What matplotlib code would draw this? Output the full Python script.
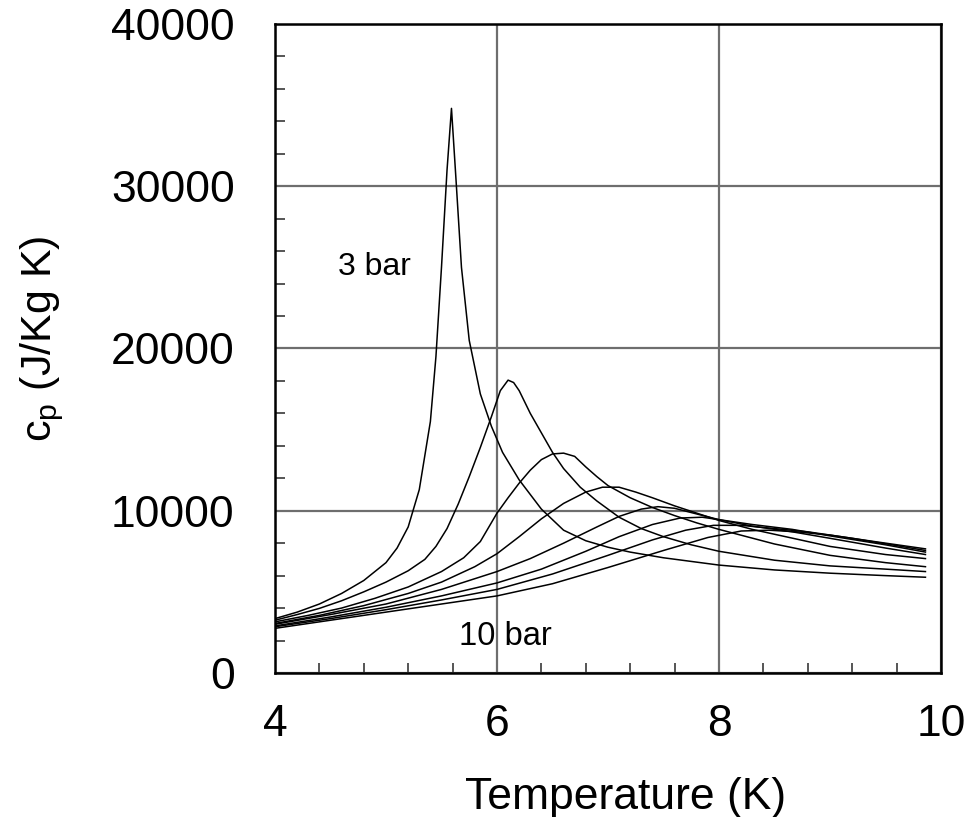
import numpy as np
import matplotlib
matplotlib.use('Agg')
import matplotlib.pyplot as plt
from matplotlib.ticker import MultipleLocator

plt.rcParams['font.family'] = ['Liberation Sans', 'DejaVu Sans']
plt.rcParams['mathtext.fontset'] = 'custom'
plt.rcParams['mathtext.rm'] = 'Liberation Sans'

# specific heat of helium (T in K, cp in J/Kg K)
T_3bar = [4.0, 4.2, 4.4, 4.6, 4.8, 5.0, 5.1, 5.2, 5.3, 5.4, 5.45, 5.5, 5.55, 5.59, 5.63, 5.68,
          5.75, 5.85, 5.95, 6.05, 6.2, 6.4, 6.6, 6.8, 7.0, 7.2, 7.5, 8.0, 8.5, 9.0, 9.5, 9.86]
cp_3bar = [3350, 3750, 4250, 4900, 5700, 6800, 7700, 9000, 11300, 15500, 19500, 25000, 31000,
           34800, 30500, 25000, 20500, 17200, 15200, 13600, 11900, 10100, 8800, 8150, 7750,
           7450, 7100, 6650, 6350, 6150, 6000, 5900]

T_4bar = [4.0, 4.2, 4.4, 4.6, 4.8, 5.0, 5.2, 5.35, 5.45, 5.55, 5.65, 5.75, 5.85, 5.95, 6.03, 6.1,
          6.15, 6.2, 6.3, 6.4, 6.5, 6.6, 6.75, 6.9, 7.1, 7.3, 7.5, 7.75, 8.0, 8.5, 9.0, 9.5, 9.86]
cp_4bar = [3250, 3600, 3980, 4450, 5000, 5600, 6300, 7000, 7800, 8900, 10400, 12100, 13900,
           15800, 17400, 18050, 17900, 17400, 16000, 14800, 13600, 12600, 11450, 10600, 9600,
           8900, 8400, 7900, 7500, 6950, 6600, 6400, 6250]

T_5bar = [4.0, 4.3, 4.6, 4.9, 5.2, 5.5, 5.7, 5.85, 6.0, 6.1, 6.2, 6.3, 6.4, 6.5, 6.6, 6.7, 6.8,
          6.9, 7.0, 7.2, 7.4, 7.6, 7.8, 8.0, 8.5, 9.0, 9.5, 9.86]
cp_5bar = [3150, 3550, 4000, 4600, 5300, 6250, 7100, 8100, 9850, 10800, 11700, 12500, 13150,
           13500, 13550, 13350, 12700, 12100, 11550, 10800, 10200, 9700, 9250, 8850, 7950, 7250,
           6800, 6550]

T_6bar = [4.0, 4.4, 4.8, 5.2, 5.5, 5.8, 6.0, 6.2, 6.4, 6.6, 6.8, 6.95, 7.1, 7.25, 7.4, 7.6, 7.8,
          8.0, 8.3, 8.6, 9.0, 9.5, 9.86]
cp_6bar = [3050, 3550, 4150, 4900, 5600, 6550, 7350, 8400, 9500, 10450, 11150, 11450, 11450,
           11150, 10800, 10300, 9850, 9400, 8850, 8400, 7800, 7300, 7050]

T_7bar = [4.0, 4.5, 5.0, 5.5, 6.0, 6.3, 6.6, 6.9, 7.1, 7.3, 7.45, 7.6, 7.8, 8.0, 8.3, 8.66, 9.0,
          9.5, 9.86]
cp_7bar = [3000, 3600, 4250, 5150, 6250, 7050, 8000, 9000, 9650, 10100, 10250, 10150, 9800, 9450,
           9050, 8700, 8300, 7700, 7300]

T_8bar = [4.0, 4.5, 5.0, 5.5, 6.0, 6.4, 6.8, 7.1, 7.4, 7.65, 7.85, 8.05, 8.3, 8.66, 9.0, 9.5, 9.86]
cp_8bar = [2900, 3450, 4050, 4750, 5550, 6400, 7500, 8400, 9150, 9550, 9600, 9400, 9150, 8850,
           8450, 7900, 7450]

T_9bar = [4.0, 4.5, 5.0, 5.5, 6.0, 6.5, 7.0, 7.4, 7.7, 7.95, 8.2, 8.5, 8.8, 9.2, 9.6, 9.86]
cp_9bar = [2850, 3350, 3900, 4500, 5150, 6100, 7250, 8200, 8800, 9100, 9100, 8900, 8700, 8300,
           7850, 7550]

T_10bar = [4.0, 4.5, 5.0, 5.5, 6.0, 6.5, 7.0, 7.5, 7.9, 8.2, 8.45, 8.7, 9.0, 9.4, 9.86]
cp_10bar = [2750, 3250, 3750, 4250, 4750, 5500, 6500, 7550, 8350, 8750, 8800, 8700, 8500, 8100,
            7650]

curves = [(T_3bar, cp_3bar), (T_4bar, cp_4bar), (T_5bar, cp_5bar), (T_6bar, cp_6bar),
          (T_7bar, cp_7bar), (T_8bar, cp_8bar), (T_9bar, cp_9bar), (T_10bar, cp_10bar)]

fig = plt.figure(figsize=(9.72, 8.17), dpi=100)
ax = fig.add_axes([0.2829, 0.1763, 0.6852, 0.7943])

for T, cp in curves:
    ax.plot(T, cp, color='black', lw=1.1, zorder=3)

ax.set_xlim(4, 10)
ax.set_ylim(0, 40000)
ax.xaxis.set_major_locator(MultipleLocator(2))
ax.xaxis.set_minor_locator(MultipleLocator(0.4))
ax.yaxis.set_major_locator(MultipleLocator(10000))
ax.yaxis.set_minor_locator(MultipleLocator(2000))
ax.grid(True, which='major', color='#6e6e6e', lw=1.6, zorder=1)
ax.tick_params(which='both', direction='in', color='#555555', width=1.4,
               labelsize=32, top=False, right=False)
ax.tick_params(axis='x', which='major', length=0, pad=22)
ax.tick_params(axis='y', which='major', length=0, pad=29)
ax.tick_params(which='minor', length=7)
for s in ax.spines.values():
    s.set_linewidth(1.8)
    s.set_zorder(4)

ax.set_xlabel('Temperature (K)', fontsize=32)
ax.set_ylabel(r'c$_\mathregular{p}$ (J/Kg K)', fontsize=31)
ax.xaxis.set_label_coords(0.527, -0.16)
ax.yaxis.set_label_coords(-0.314, 0.515)

ax.text(4.9, 25000, '3 bar', fontsize=23, ha='center', va='center')
ax.text(6.08, 2220, '10 bar', fontsize=23.5, ha='center', va='center')

fig.savefig('out.png', dpi=100)
